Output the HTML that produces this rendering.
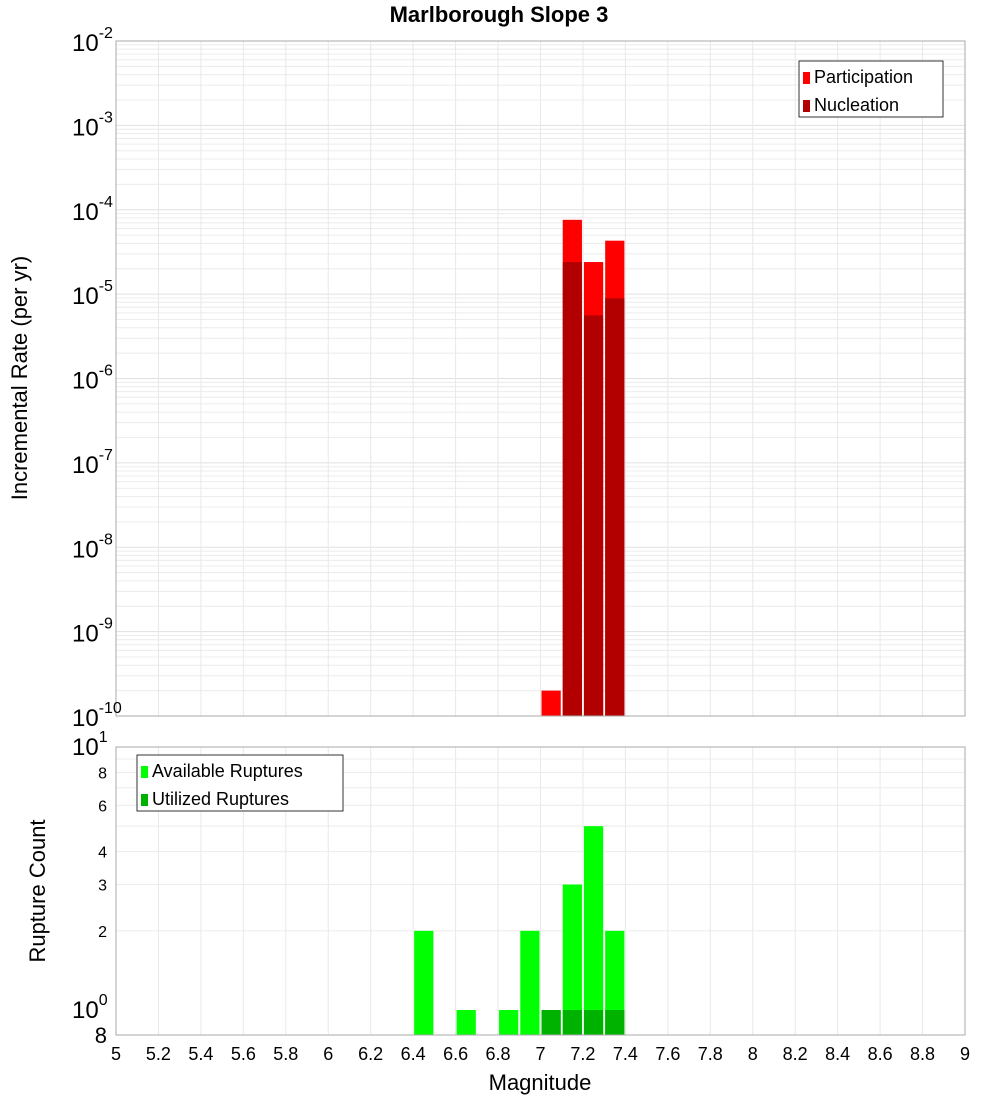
<!DOCTYPE html>
<html><head><meta charset="utf-8"><style>
body{margin:0;background:#fff;}
svg text{font-family:"Liberation Sans","DejaVu Sans",sans-serif;fill:#000;}
</style></head><body>
<svg id="chart" width="1000" height="1100" xmlns="http://www.w3.org/2000/svg">
<text x="499" y="22" font-size="22" font-weight="bold" text-anchor="middle">Marlborough Slope 3</text>
<g id="topPlot"></g><g id="botPlot"></g>
<text transform="translate(27,378) rotate(-90)" font-size="22" text-anchor="middle">Incremental Rate (per yr)</text>
<text transform="translate(45,891) rotate(-90)" font-size="22" text-anchor="middle">Rupture Count</text>
<text x="540" y="1090" font-size="22" text-anchor="middle">Magnitude</text>
</svg>
<script>
const binCenters=[7.05,7.15,7.25,7.35];
const participation=[2e-10,7.6e-5,2.4e-5,4.3e-5];
const nucleation=[0,2.4e-5,5.6e-6,8.9e-6];
const availMags=[6.45,6.65,6.85,6.95,7.05,7.15,7.25,7.35];
const availCounts=[2,1,1,2,1,3,5,2];
const usedMags=[7.05,7.15,7.25,7.35];
const usedCounts=[1,1,1,1];
const xTicks=[5,5.2,5.4,5.6,5.8,6,6.2,6.4,6.6,6.8,7,7.2,7.4,7.6,7.8,8,8.2,8.4,8.6,8.8,9];
const topExps=[-2,-3,-4,-5,-6,-7,-8,-9,-10];
const botTicks=[8,6,4,3,2];

const NS="http://www.w3.org/2000/svg";
const X0=116,X1=965;
const xs=m=>X0+(m-5)/4*(X1-X0);
const T0=41,T1=716;
const yTop=v=>T0+(-2-Math.log10(v))/8*(T1-T0);
const B0=747,B1=1035;
const yBot=v=>1010-Math.log10(v)*263;
function el(p,t,a){const e=document.createElementNS(NS,t);for(const k in a)e.setAttribute(k,a[k]);p.appendChild(e);return e;}
const topG=document.getElementById('topPlot'),botG=document.getElementById('botPlot');

for(let d=-10;d<-2;d++){for(let k=1;k<10;k++){const y=yTop(k*Math.pow(10,d));if(y<T0||y>T1)continue;
const l=el(topG,'line',{x1:X0,x2:X1,y1:y,y2:y,stroke:k==1?'#e0e0e0':'#ececec','stroke-width':1});

}}
xTicks.forEach(m=>{const l=el(topG,'line',{x1:xs(m),x2:xs(m),y1:T0,y2:T1,stroke:'#e8e8e8'});


const l2=el(botG,'line',{x1:xs(m),x2:xs(m),y1:B0,y2:B1,stroke:'#e8e8e8'});

});
for(let k=2;k<=9;k++){const l=el(botG,'line',{x1:X0,x2:X1,y1:yBot(k),y2:yBot(k),stroke:'#ececec'});

}

binCenters.forEach((m,i)=>{
const x=xs(m-0.05)+1,w=xs(m+0.05)-xs(m-0.05)-2;
const v=participation[i];if(v>0){const y=yTop(v);
const r=el(topG,'rect',{x:x,y:y,width:w,height:T1-y,fill:'#ff0000'});

}
const n=nucleation[i];if(n>0){const y=yTop(n);
const r=el(topG,'rect',{x:x,y:y,width:w,height:T1-y,fill:'#b20000'});

}});
availMags.forEach((m,i)=>{const x=xs(m-0.05)+1,w=xs(m+0.05)-xs(m-0.05)-2,y=yBot(availCounts[i]);
const r=el(botG,'rect',{x:x,y:y,width:w,height:B1-y,fill:'#00ff00'});

});
usedMags.forEach((m,i)=>{const x=xs(m-0.05)+1,w=xs(m+0.05)-xs(m-0.05)-2,y=yBot(usedCounts[i]);
const r=el(botG,'rect',{x:x,y:y,width:w,height:B1-y,fill:'#00b200'});

});

const f1=el(topG,'rect',{x:X0,y:T0,width:X1-X0,height:T1-T0,fill:'none',stroke:'#aaa'});


const f2=el(botG,'rect',{x:X0,y:B0,width:X1-X0,height:B1-B0,fill:'none',stroke:'#aaa'});



topExps.forEach(e=>{const y=yTop(Math.pow(10,e));
const t=el(topG,'text',{x:72,y:y+10,'font-size':24});


t.textContent='10';
const s=el(t,'tspan',{dy:-13,'font-size':16});s.textContent=String(e);});
botTicks.forEach(v=>{const t=el(botG,'text',{x:107,y:yBot(v)+6,'font-size':16,'text-anchor':'end',fill:'#333'});


t.textContent=String(v);});
[[1,'0',1018],[10,'1',755]].forEach(a=>{const t=el(botG,'text',{x:72,y:a[2],'font-size':24});


t.textContent='10';const s=el(t,'tspan',{dy:-13,'font-size':16});s.textContent=a[1];});
const t8=el(botG,'text',{x:107,y:1043,'font-size':22,'text-anchor':'end'});


t8.textContent='8';
xTicks.forEach(m=>{const t=el(botG,'text',{x:xs(m),y:1060,'font-size':18,'text-anchor':'middle'});


t.textContent=String(m);});

function legend(p,x,y,w,items,name){const g=el(p,'g',{});


el(g,'rect',{x:x,y:y,width:w,height:56,fill:'#fff',stroke:'#333'});
items.forEach((it,i)=>{el(g,'rect',{x:x+4,y:y+11+i*28,width:7,height:12,fill:it[1]});
const t=el(g,'text',{x:x+15,y:y+22+i*28,'font-size':18});t.textContent=it[0];});}
legend(topG,799,61,144,[['Participation','#ff0000'],['Nucleation','#b20000']],'legend-top');
legend(botG,137,755,206,[['Available Ruptures','#00ff00'],['Utilized Ruptures','#00b200']],'legend-bottom');
</script>
</body></html>
